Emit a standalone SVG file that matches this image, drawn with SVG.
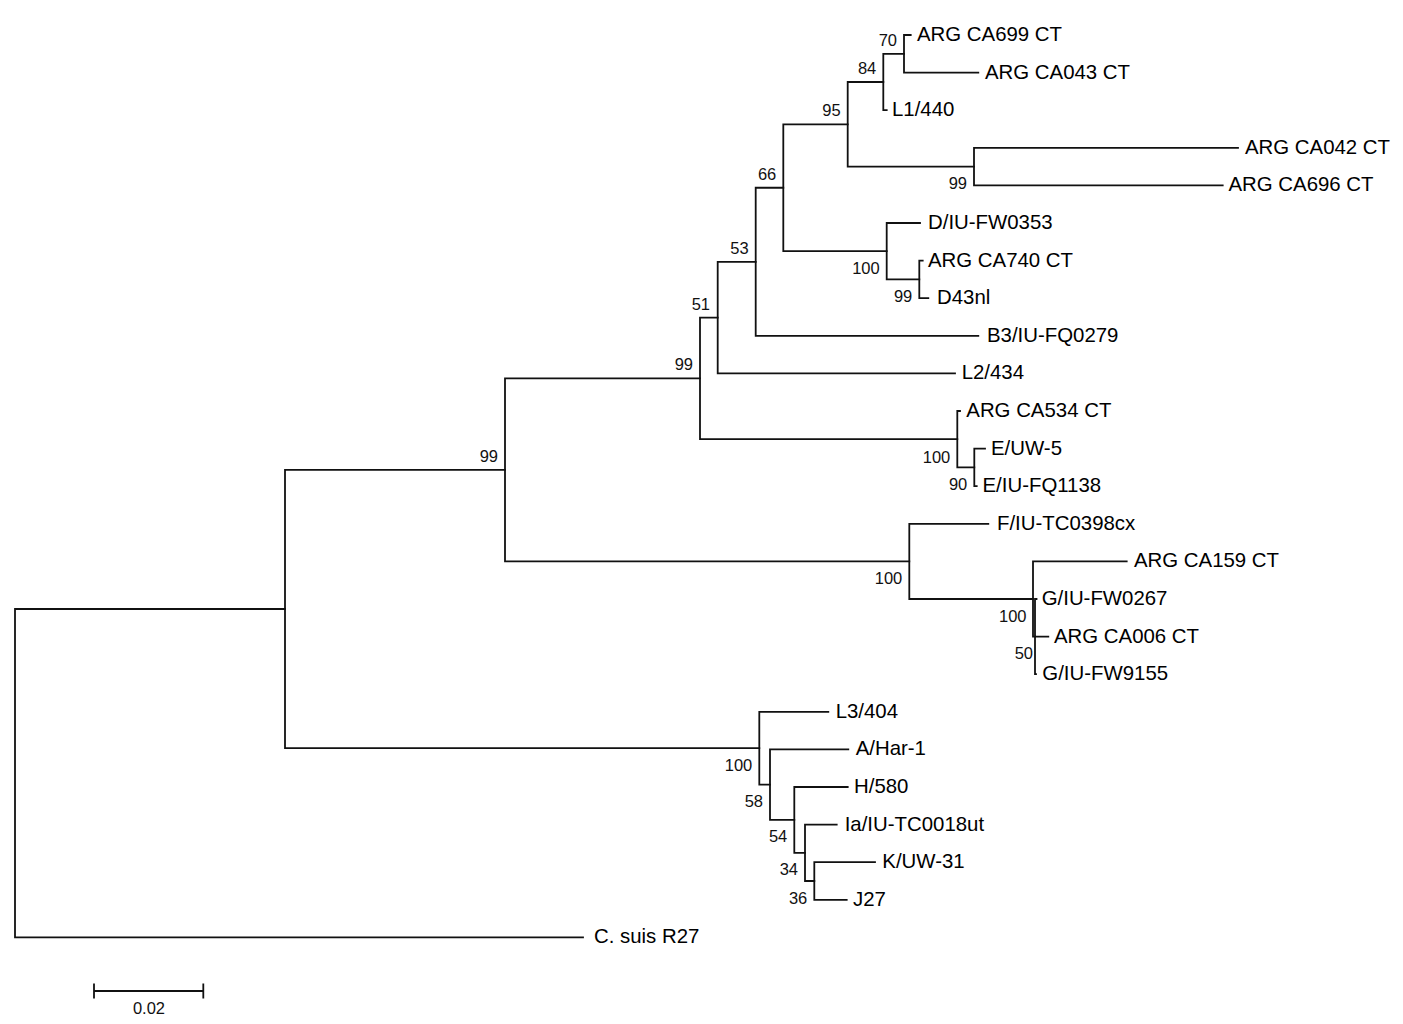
<svg xmlns="http://www.w3.org/2000/svg" width="1403" height="1024" viewBox="0 0 1403 1024">
<style>
.br{stroke:#111;stroke-width:1.8;fill:none;stroke-linecap:square}
.lf{font-family:"Liberation Sans",Arial,sans-serif;font-size:20.4px;fill:#000}
.bs{font-family:"Liberation Sans",Arial,sans-serif;font-size:16.5px;fill:#111;text-anchor:end}
.sc{font-family:"Liberation Sans",Arial,sans-serif;font-size:16.5px;fill:#111;text-anchor:middle}
</style>
<rect width="1403" height="1024" fill="#fff"/>
<g id="connectors">
<path class="br" d="M15,609V937.4 M15,609H285 M15,937.4H583"/>
<path class="br" d="M285,469.9V748.2 M285,469.9H505 M285,748.2H759.3"/>
<path class="br" d="M505,378.4V561.4 M505,378.4H700 M505,561.4H909.3"/>
<path class="br" d="M700,317.6V439.2 M700,317.6H717.7 M700,439.2H957.3"/>
<path class="br" d="M717.7,261.8V373.4 M717.7,261.8H755.7 M717.7,373.4H955"/>
<path class="br" d="M755.7,187.75V335.8 M755.7,187.75H783.3 M755.7,335.8H978.3"/>
<path class="br" d="M783.3,124.3V251.2 M783.3,124.3H847.7 M783.3,251.2H886.7"/>
<path class="br" d="M847.7,82V166.6 M847.7,82H883.3 M847.7,166.6H974"/>
<path class="br" d="M883.3,53.8V110.2 M883.3,53.8H904 M883.3,110.2H886.7"/>
<path class="br" d="M904,35V72.6 M904,35H910.7 M904,72.6H978.3"/>
<path class="br" d="M974,147.8V185.4 M974,147.8H1238 M974,185.4H1222.7"/>
<path class="br" d="M886.7,223V279.4 M886.7,223H920 M886.7,279.4H919.3"/>
<path class="br" d="M919.3,260.6V298.2 M919.3,260.6H922.7 M919.3,298.2H928.3"/>
<path class="br" d="M957.3,411V467.4 M957.3,411H960 M957.3,467.4H974.3"/>
<path class="br" d="M974.3,448.6V486.2 M974.3,448.6H985 M974.3,486.2H976.7"/>
<path class="br" d="M909.3,523.8V599 M909.3,523.8H988.3 M909.3,599H1033"/>
<path class="br" d="M1033,561.4V636.6 M1033,561.4H1126.7 M1033,636.6H1035"/>
<path class="br" d="M1035,599V674.2 M1035,599H1036.5 M1035,636.6H1048.3 M1035,674.2H1036"/>
<path class="br" d="M759.3,711.8V784.65 M759.3,711.8H828.3 M759.3,784.65H770"/>
<path class="br" d="M770,749.4V819.9 M770,749.4H848.3 M770,819.9H794.3"/>
<path class="br" d="M794.3,787V852.8 M794.3,787H847.7 M794.3,852.8H805"/>
<path class="br" d="M805,824.6V881 M805,824.6H836.7 M805,881H814.3"/>
<path class="br" d="M814.3,862.2V899.8 M814.3,862.2H875 M814.3,899.8H846.7"/>
</g>
<g id="leaves">
<g id="leaf-ca699"><text class="lf" x="917" y="41">ARG CA699 CT</text></g>
<g id="leaf-ca043"><text class="lf" x="985" y="78.6">ARG CA043 CT</text></g>
<g id="leaf-l1"><text class="lf" x="892" y="116.2">L1/440</text></g>
<g id="leaf-ca042"><text class="lf" x="1245" y="153.8">ARG CA042 CT</text></g>
<g id="leaf-ca696"><text class="lf" x="1228.5" y="191.4">ARG CA696 CT</text></g>
<g id="leaf-d-fw0353"><text class="lf" x="928" y="229">D/IU-FW0353</text></g>
<g id="leaf-ca740"><text class="lf" x="928" y="266.6">ARG CA740 CT</text></g>
<g id="leaf-d43nl"><text class="lf" x="937" y="304.2">D43nl</text></g>
<g id="leaf-b3"><text class="lf" x="987" y="341.8">B3/IU-FQ0279</text></g>
<g id="leaf-l2"><text class="lf" x="961.7" y="379.4">L2/434</text></g>
<g id="leaf-ca534"><text class="lf" x="966.3" y="417">ARG CA534 CT</text></g>
<g id="leaf-e-uw5"><text class="lf" x="991" y="454.6">E/UW-5</text></g>
<g id="leaf-e-fq1138"><text class="lf" x="982.5" y="492.2">E/IU-FQ1138</text></g>
<g id="leaf-f"><text class="lf" x="997" y="529.8">F/IU-TC0398cx</text></g>
<g id="leaf-ca159"><text class="lf" x="1134" y="567.4">ARG CA159 CT</text></g>
<g id="leaf-g-fw0267"><text class="lf" x="1041.7" y="605">G/IU-FW0267</text></g>
<g id="leaf-ca006"><text class="lf" x="1054" y="642.6">ARG CA006 CT</text></g>
<g id="leaf-g-fw9155"><text class="lf" x="1042.3" y="680.2">G/IU-FW9155</text></g>
<g id="leaf-l3"><text class="lf" x="835.7" y="717.8">L3/404</text></g>
<g id="leaf-a"><text class="lf" x="855.7" y="755.4">A/Har-1</text></g>
<g id="leaf-h"><text class="lf" x="854" y="793">H/580</text></g>
<g id="leaf-ia"><text class="lf" x="844.7" y="830.6">Ia/IU-TC0018ut</text></g>
<g id="leaf-k"><text class="lf" x="882.3" y="868.2">K/UW-31</text></g>
<g id="leaf-j27"><text class="lf" x="853" y="905.8">J27</text></g>
<g id="leaf-csuis"><text class="lf" x="594" y="943.4">C. suis R27</text></g>
</g>
<g id="bootstrap">
<g id="node-70"><text class="bs" x="897" y="45.8">70</text></g>
<g id="node-84"><text class="bs" x="876.3" y="74">84</text></g>
<g id="node-95"><text class="bs" x="840.7" y="116.3">95</text></g>
<g id="node-99a"><text class="bs" x="967" y="189.1">99</text></g>
<g id="node-66"><text class="bs" x="776.3" y="179.75">66</text></g>
<g id="node-53"><text class="bs" x="748.7" y="253.8">53</text></g>
<g id="node-51"><text class="bs" x="710" y="309.6">51</text></g>
<g id="node-99c"><text class="bs" x="693" y="370.4">99</text></g>
<g id="node-99d"><text class="bs" x="498" y="461.9">99</text></g>
<g id="node-100a"><text class="bs" x="879.7" y="273.7">100</text></g>
<g id="node-99b"><text class="bs" x="912.3" y="301.9">99</text></g>
<g id="node-100b"><text class="bs" x="950.3" y="462.5">100</text></g>
<g id="node-90"><text class="bs" x="967.3" y="489.9">90</text></g>
<g id="node-100f"><text class="bs" x="902.3" y="583.9">100</text></g>
<g id="node-100g"><text class="bs" x="1026.5" y="621.5">100</text></g>
<g id="node-50"><text class="bs" x="1033" y="659.1">50</text></g>
<g id="node-100l"><text class="bs" x="752.3" y="770.7">100</text></g>
<g id="node-58"><text class="bs" x="763" y="807.2">58</text></g>
<g id="node-54"><text class="bs" x="787.3" y="842.4">54</text></g>
<g id="node-34"><text class="bs" x="798" y="875.3">34</text></g>
<g id="node-36"><text class="bs" x="807.3" y="903.5">36</text></g>
</g>
<g id="scale-bar">
<path class="br" d="M94,991H203.3 M94,984.5V997.5 M203.3,984.5V997.5"/>
<text class="sc" x="149" y="1014.3">0.02</text>
</g>
</svg>
